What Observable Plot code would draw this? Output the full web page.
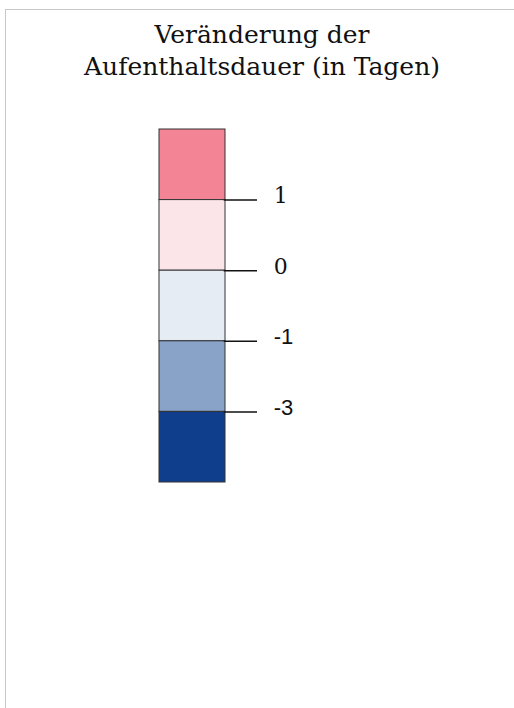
<!DOCTYPE html>
<html>
<head>
<meta charset="utf-8">
<script src="https://cdn.jsdelivr.net/npm/d3@7"></script>
<script src="https://cdn.jsdelivr.net/npm/@observablehq/plot@0.6"></script>
<style>
  html, body { margin: 0; padding: 0; background: #fff; overflow: hidden; }
  #frame {
    position: absolute; left: 5px; top: 9px; width: 513px; height: 720px;
    border-top: 1px solid #c8c8c8; border-left: 1px solid #c8c8c8;
    box-sizing: border-box;
  }
  #title {
    font-family: "DejaVu Serif", serif; font-size: 25px; line-height: 32px;
    text-align: center; color: #111; padding-top: 9px; height: 85px; box-sizing: border-box;
  }
</style>
</head>
<body>
<div id="frame">
  <div id="title">Veränderung der<br>Aufenthaltsdauer (in Tagen)</div>
  <div id="chart"></div>
</div>
<script>
const colors = ["#F28496", "#FCE5E9", "#E6ECF4", "#88A3C7", "#0F3F8C"];
const thresholds = [1, 0, -1, -3];
const tickLabels = ["1", "0", "-1", "-3"];

const boxes = colors.map((c, i) => ({i, color: c}));
const ticks = thresholds.map((t, k) => ({pos: k + 1, value: t, label: tickLabels[k]}));

const chart = Plot.plot({
  width: 508,
  height: 560,
  margin: 0,
  style: {fontSize: "22px"},
  x: {domain: [0, 1], range: [153, 219], axis: null},
  y: {domain: [0, 5], range: [34, 387], axis: null},
  marks: [
    Plot.rect(boxes, {x1: 0, x2: 1, y1: d => d.i, y2: d => d.i + 1, fill: d => d.color, stroke: "#333", strokeWidth: 1}),
    Plot.ruleY(ticks, {y: "pos", x1: 0.98, x2: 1.485, stroke: "#111", strokeWidth: 1.5}),
    Plot.text(ticks.filter(d => d.value >= 0), {x: 1.73, y: "pos", text: "label", textAnchor: "start", dy: -4, fontSize: 22, fontFamily: "DejaVu Serif", fill: "#111"}),
    Plot.text(ticks.filter(d => d.value < 0), {x: 1.73, y: "pos", text: "label", textAnchor: "start", dy: -4, fontSize: 22, fontFamily: "Liberation Sans", fill: "#111"})
  ]
});
document.getElementById("chart").appendChild(chart);
</script>
</body>
</html>
